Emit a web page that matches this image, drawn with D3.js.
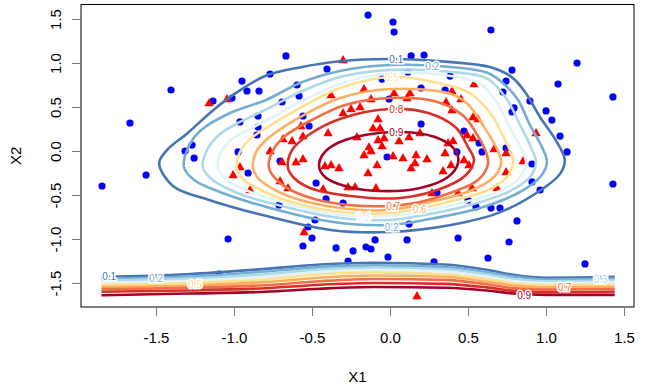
<!DOCTYPE html>
<html>
<head>
<meta charset="utf-8">
<script src="https://cdn.jsdelivr.net/npm/d3@7"></script>
<style>
  body { margin: 0; background: #fff; }
  text { font-family: "Liberation Sans", Arial, sans-serif; }
</style>
</head>
<body>
<script>
// class 0 points (blue) and class 1 points (red)
const blueX = [-1.404,-1.667,-1.135,-1.269,-1.314,-1.256,-1.564,-1.846,-0.949,-0.917,-0.840,-1.013,-0.962,-0.846,-0.846,-0.853,-0.974,
  -0.141,0.019,0.026,-0.667,0.135,0.218,-0.769,-0.404,-0.596,-0.583,-0.692,-0.558,-0.519,-0.051,0.115,-0.006,0.199,0.199,-0.019,
  -0.705,-0.474,0.353,0.301,0.385,0.647,1.199,0.782,0.744,1.077,1.429,0.724,0.897,0.795,0.782,1.0,1.038,1.090,1.135,0.474,0.571,
  0.590,0.910,0.910,0.962,1.429,0.429,0.744,0.705,0.814,0.436,0.763,0.628,1.25,0.282,0.5,0.551,0.647,-0.410,-0.301,-0.712,-0.481,
  -0.526,-0.5,-0.558,-0.346,-0.237,-0.154,-0.122,-0.096,-0.013,0.109,0.122,-0.269,-1.038,-1.096,-0.910];
const blueY = [0.693,0.318,0.568,0.068,0.0,-0.08,-0.273,-0.398,0.795,0.682,0.682,0.602,0.330,0.398,0.273,0.182,-0.011,
  1.545,1.466,1.352,1.080,1.080,1.091,0.875,0.932,0.75,0.625,0.557,0.398,0.284,0.818,0.898,0.591,0.716,0.307,-0.068,
  -0.114,-0.364,0.693,-0.477,0.852,1.375,1.0,0.920,0.795,0.761,0.614,0.670,0.568,0.489,0.443,0.455,0.352,0.170,-0.011,0.227,0.091,
  -0.011,-0.148,-0.352,-0.443,-0.375,-0.011,0.034,-0.648,-0.795,-0.989,-1.034,-1.216,-1.284,-1.261,-0.557,-0.636,-0.648,-0.545,-0.591,-0.614,-0.784,
  -0.864,-0.989,-1.080,-1.102,-1.136,-1.091,-1.114,-1.011,-1.205,-1.011,-0.830,-1.25,-1.0,-1.398,-0.25];

const redX = [-1.160,-1.045,-0.301,-0.378,-0.167,-0.122,0.026,0.109,0.128,-0.301,-0.25,-0.192,-0.077,-0.109,-0.064,-0.571,-0.558,
  -0.686,-0.628,-0.397,-0.212,-0.077,-0.038,0.058,0.122,0.192,-0.135,-0.122,-0.167,-0.051,-0.083,0.019,0.083,0.167,0.160,0.135,
  0.237,0.340,0.372,-0.769,-0.692,-0.603,-0.558,-0.417,-0.378,-0.327,-0.962,-1.006,-0.897,-0.705,-0.654,-0.269,-0.224,-0.141,
  -0.090,0.269,-0.429,-0.551,0.173,0.397,0.455,0.538,0.359,0.532,0.564,0.397,0.353,0.391,0.494,0.532,0.667,0.744,0.474,0.506,
  0.744,0.853,0.936,0.436,0.526,0.686,0.404];
const redY = [0.545,0.591,1.034,0.636,0.705,0.591,0.659,0.602,0.659,0.432,0.477,0.5,0.364,0.261,0.261,0.284,0.170,
  0.136,0.114,0.205,0.159,0.125,0.148,0.114,0.159,0.205,0.045,0.0,-0.045,0.057,-0.159,-0.057,-0.080,-0.045,-0.136,-0.193,
  -0.091,-0.227,0.091,0.0,-0.125,-0.125,-0.091,-0.170,-0.159,-0.193,-0.182,-0.273,-0.443,-0.341,-0.420,-0.409,-0.409,-0.25,
  -0.420,-0.477,-0.432,-0.920,-1.648,0.682,0.591,0.761,0.557,0.386,0.364,0.466,-0.023,-0.159,0.182,0.148,0.023,-0.023,-0.102,-0.159,
  -0.239,-0.114,0.205,-0.477,-0.420,-0.420,0.114];

// probability contour levels and colours
const levels = [0.1, 0.2, 0.3, 0.4, 0.5, 0.6, 0.7, 0.8, 0.9];
const levelColors = ["#4575B4","#74ADD1","#ABD9E9","#E0F3F8","#FEE090","#FDAE61","#F46D43","#D73027","#A50026"];

// closed contours around the red cloud
const contour01 = [[-1.48,-0.14],[-1.43,0.01],[-1.30,0.20],[-1.13,0.47],[-0.97,0.68],[-0.79,0.86],[-0.58,0.95],[-0.32,1.02],[0,1.045],
  [0.39,1.01],[0.64,0.955],[0.78,0.84],[0.87,0.66],[0.96,0.39],[1.06,0.13],[1.12,-0.10],[1.09,-0.26],[0.97,-0.44],[0.70,-0.70],
  [0.39,-0.84],[0,-0.92],[-0.37,-0.90],[-0.79,-0.74],[-1.17,-0.55],[-1.39,-0.40]];
const contour02 = [[-1.321,-0.182],[-1.295,0.034],[-1.218,0.227],[-1.026,0.432],[-0.795,0.580],[-0.577,0.773],[-0.321,0.909],[0,0.977],
  [0.385,0.955],[0.628,0.886],[0.737,0.750],[0.821,0.580],[0.897,0.295],[0.974,0.045],[1.006,-0.125],[0.968,-0.284],[0.833,-0.466],
  [0.577,-0.648],[0.256,-0.773],[0,-0.841],[-0.365,-0.807],[-0.769,-0.648],[-1.090,-0.466],[-1.256,-0.330]];
const contour03 = [[-1.199,-0.193],[-1.173,0.011],[-1.090,0.193],[-0.962,0.330],[-0.795,0.470],[-0.577,0.670],[-0.321,0.841],[0,0.920],
  [0.391,0.898],[0.628,0.818],[0.756,0.568],[0.833,0.295],[0.897,0.068],[0.936,-0.125],[0.897,-0.295],[0.769,-0.455],[0.513,-0.614],
  [0.256,-0.716],[0,-0.784],[-0.365,-0.750],[-0.769,-0.591],[-0.962,-0.489],[-1.128,-0.341]];
const contour04 = [[-1.103,-0.205],[-1.083,-0.011],[-1.013,0.136],[-0.897,0.250],[-0.769,0.370],[-0.577,0.557],[-0.321,0.761],[0,0.886],
  [0.391,0.852],[0.583,0.761],[0.692,0.534],[0.769,0.261],[0.833,0.057],[0.872,-0.125],[0.833,-0.295],[0.705,-0.455],[0.481,-0.580],
  [0.256,-0.670],[0,-0.739],[-0.365,-0.716],[-0.737,-0.557],[-0.910,-0.455],[-1.038,-0.341]];
const contour05 = [[-0.981,-0.193],[-0.962,-0.011],[-0.897,0.135],[-0.795,0.260],[-0.577,0.489],[-0.321,0.716],[0,0.841],[0.391,0.739],
  [0.519,0.650],[0.647,0.420],[0.737,0.125],[0.788,-0.102],[0.756,-0.284],[0.641,-0.432],[0.449,-0.545],[0.256,-0.625],[0,-0.705],
  [-0.365,-0.682],[-0.692,-0.545],[-0.840,-0.432],[-0.936,-0.330]];
const contour06 = [[-0.878,-0.193],[-0.859,-0.011],[-0.782,0.145],[-0.577,0.386],[-0.321,0.602],[0,0.705],[0.391,0.648],[0.500,0.530],
  [0.603,0.273],[0.692,0],[0.712,-0.136],[0.667,-0.295],[0.513,-0.455],[0.256,-0.580],[0,-0.670],[-0.365,-0.636],[-0.654,-0.511],
  [-0.782,-0.398],[-0.846,-0.307]];
const contour07 = [[-0.776,-0.193],[-0.756,-0.011],[-0.673,0.170],[-0.513,0.341],[-0.288,0.523],[0,0.602],[0.300,0.560],[0.470,0.400],
  [0.560,0.180],[0.615,-0.011],[0.628,-0.148],[0.564,-0.330],[0.385,-0.477],[0.192,-0.580],[0,-0.625],[-0.365,-0.591],[-0.596,-0.477],[-0.712,-0.352]];
const contour08 = [[-0.654,-0.193],[-0.628,0.011],[-0.513,0.193],[-0.321,0.364],[0,0.477],[0.250,0.430],[0.420,0.270],[0.5,0.045],[0.538,-0.102],
  [0.487,-0.273],[0.321,-0.432],[0.064,-0.534],[-0.256,-0.511],[-0.513,-0.420],[-0.615,-0.307]];
const contour09 = [[-0.455,-0.170],[-0.417,-0.011],[-0.288,0.125],[0.019,0.216],[0.288,0.159],[0.417,0.011],[0.436,-0.136],
  [0.372,-0.295],[0.192,-0.420],[-0.064,-0.455],[-0.288,-0.398],[-0.417,-0.295]];
const closedContours = [contour01, contour02, contour03, contour04, contour05, contour06, contour07, contour08, contour09];

// open contours along the bottom edge of the grid
const bandX = [-1.85, -1.3, -0.8, -0.45, -0.1, 0.35, 0.62, 0.8, 1.0, 1.44];
const band01 = [-1.43,-1.40,-1.34,-1.29,-1.27,-1.29,-1.35,-1.41,-1.44,-1.43];
const band02 = [-1.45,-1.43,-1.37,-1.32,-1.30,-1.32,-1.38,-1.43,-1.46,-1.45];
const band03 = [-1.47,-1.45,-1.40,-1.345,-1.325,-1.345,-1.40,-1.455,-1.48,-1.47];
const band04 = [-1.495,-1.475,-1.43,-1.375,-1.35,-1.37,-1.43,-1.48,-1.50,-1.495];
const band05 = [-1.52,-1.50,-1.46,-1.40,-1.38,-1.40,-1.455,-1.505,-1.525,-1.52];
const band06 = [-1.545,-1.53,-1.49,-1.44,-1.415,-1.43,-1.485,-1.53,-1.55,-1.545];
const band07 = [-1.57,-1.555,-1.525,-1.48,-1.455,-1.465,-1.515,-1.56,-1.575,-1.57];
const band08 = [-1.60,-1.585,-1.56,-1.52,-1.50,-1.51,-1.55,-1.59,-1.605,-1.60];
const band09 = [-1.64,-1.62,-1.60,-1.565,-1.545,-1.555,-1.585,-1.62,-1.635,-1.635];
const bands = [band01, band02, band03, band04, band05, band06, band07, band08, band09];

// contour labels: level index, x, y
const labelLevel = [0, 1, 4, 7, 8, 6, 5, 1, 3, 0, 1, 4, 8, 6, 2];
const labelX = [0.04, 0.27, 0.01, 0.04, 0.04, 0.02, 0.19, 0.01, -0.17, -1.80, -1.50, -1.25, 0.86, 1.12, 1.35];
const labelY = [1.045, 0.955, 0.84, 0.477, 0.205, -0.636, -0.67, -0.864, -0.75, -1.43, -1.45, -1.52, -1.64, -1.55, -1.46];

const ticks = [-1.5, -1.0, -0.5, 0.0, 0.5, 1.0, 1.5];

let margin = {top: 4.5, right: 13, bottom: 82, left: 81},
    width = 647 - margin.left - margin.right,
    height = 389 - margin.top - margin.bottom;

let svg = d3.select("body")
    .append("svg")
        .attr("width", 647)
        .attr("height", 389)
    .append("g")
        .attr("transform", "translate(" + margin.left + "," + margin.top + ")");

let x = d3.scaleLinear().domain([-1.981, 1.564]).range([0, width]);
let y = d3.scaleLinear().domain([-1.773, 1.665]).range([height, 0]);

// points first, contours go over them
svg.selectAll("circle.blue")
    .data(d3.range(blueX.length))
    .enter()
    .append("circle")
        .attr("cx", i => x(blueX[i]))
        .attr("cy", i => y(blueY[i]))
        .attr("r", 3.6)
        .style("fill", "#0000FF");

svg.selectAll("path.red")
    .data(d3.range(redX.length))
    .enter()
    .append("path")
        .attr("d", d3.symbol().type(d3.symbolTriangle).size(38))
        .attr("transform", i => "translate(" + x(redX[i]) + "," + (y(redY[i]) + 0.5) + ")")
        .style("fill", "#FF0000");

let closedLine = d3.line()
    .x(d => x(d[0]))
    .y(d => y(d[1]))
    .curve(d3.curveCatmullRomClosed.alpha(0.5));

let openLine = d3.line()
    .x((d, i) => x(bandX[i]))
    .y(d => y(d))
    .curve(d3.curveMonotoneX);

closedContours.forEach(function(c, k) {
    svg.append("path")
        .attr("d", closedLine(c))
        .style("fill", "none")
        .style("stroke", levelColors[k])
        .style("stroke-width", 2.6);
});

bands.forEach(function(b, k) {
    svg.append("path")
        .attr("d", openLine(b))
        .style("fill", "none")
        .style("stroke", levelColors[k])
        .style("stroke-width", 2.6);
});

// R leaves a gap in the line under each label
svg.selectAll("text.clab")
    .data(d3.range(labelLevel.length))
    .enter()
    .append("text")
        .attr("x", i => x(labelX[i]))
        .attr("y", i => y(labelY[i]))
        .attr("dy", "0.35em")
        .attr("text-anchor", "middle")
        .style("font-size", "10px")
        .style("fill", i => levelColors[labelLevel[i]])
        .style("stroke", "#fff")
        .style("stroke-width", 3)
        .style("paint-order", "stroke")
        .text(i => levels[labelLevel[i]].toFixed(1));

// box
svg.append("rect")
    .attr("width", width)
    .attr("height", height)
    .style("fill", "none")
    .style("stroke", "#000")
    .style("stroke-width", 1);

// axes, R style: line only between the end ticks
let xAxis = svg.append("g")
    .attr("transform", "translate(0," + height + ")")
    .call(d3.axisBottom(x).tickValues(ticks).tickSize(9).tickSizeOuter(0).tickFormat(d => d.toFixed(1)));
xAxis.select(".domain").remove();
xAxis.append("line")
    .attr("x1", x(ticks[0])).attr("x2", x(ticks[ticks.length - 1]))
    .style("stroke", "#777");
xAxis.selectAll(".tick line").style("stroke", "#777");
xAxis.selectAll(".tick text")
    .attr("y", 36).attr("dy", 0)
    .style("font-size", "15px")
    .style("fill", "#000");

let yAxis = svg.append("g")
    .call(d3.axisLeft(y).tickValues(ticks).tickSize(9).tickSizeOuter(0).tickFormat(d => d.toFixed(1)));
yAxis.select(".domain").remove();
yAxis.append("line")
    .attr("y1", y(ticks[0])).attr("y2", y(ticks[ticks.length - 1]))
    .style("stroke", "#777");
yAxis.selectAll(".tick line").style("stroke", "#777");
yAxis.selectAll(".tick text")
    .attr("x", -20.5).attr("y", 0).attr("dy", 0)
    .attr("transform", "rotate(-90,-20.5,0)")
    .attr("text-anchor", "middle")
    .style("font-size", "15px")
    .style("fill", "#000");

svg.append("text")
    .text("X1")
    .attr("x", width / 2)
    .attr("y", 377.5)
    .attr("text-anchor", "middle")
    .style("font-size", "15px");

svg.append("text")
    .text("X2")
    .attr("transform", "translate(-60," + (height / 2) + ") rotate(-90)")
    .attr("text-anchor", "middle")
    .style("font-size", "15px");
</script>
</body>
</html>
